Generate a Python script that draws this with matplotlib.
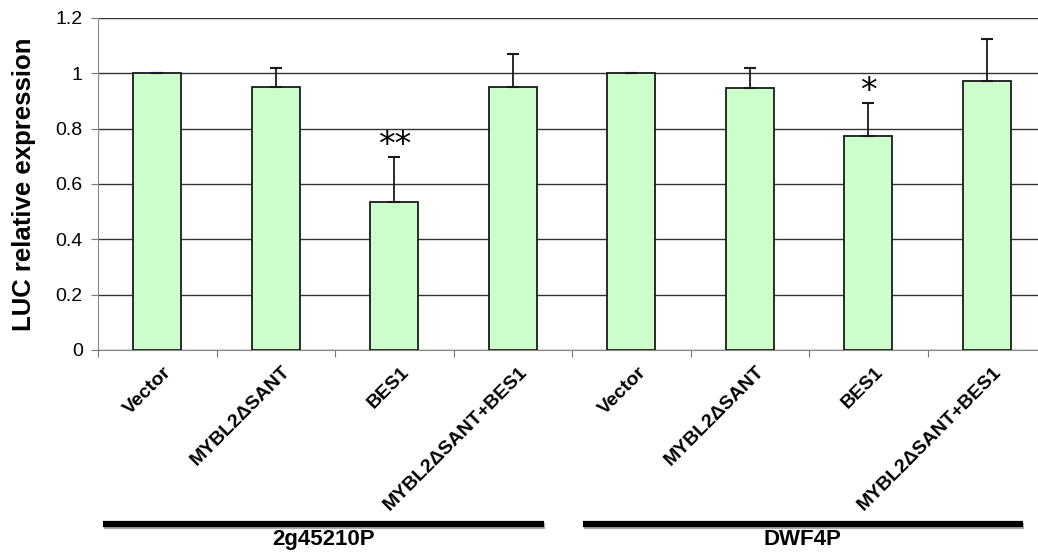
import numpy as np
import matplotlib
matplotlib.use("Agg")
import matplotlib.pyplot as plt
import matplotlib.transforms as mtransforms

plt.rcParams["font.family"] = ["Liberation Sans", "DejaVu Sans"]

# data
labels = ["Vector", "MYBL2\u0394SANT", "BES1", "MYBL2\u0394SANT+BES1",
          "Vector", "MYBL2\u0394SANT", "BES1", "MYBL2\u0394SANT+BES1"]
values = [1.0, 0.951, 0.535, 0.950, 1.0, 0.946, 0.773, 0.971]
errors = [0.0, 0.070, 0.161, 0.119, 0.0, 0.075, 0.118, 0.153]
stars = ["", "", "**", "", "", "", "*", ""]
groups = ["2g45210P", "DWF4P"]
group_span = [(-0.46, 3.26), (3.59, 7.30)]

fig = plt.figure(figsize=(10.38, 5.52), dpi=100)
ax = fig.add_axes([0.0944, 0.366, 0.9056, 0.6014])

x = np.arange(len(values))
ax.bar(x, values, width=0.405, color="#CCFFCC", edgecolor="#1a1a1a",
       linewidth=1.3, zorder=3)
ax.errorbar(x, values, yerr=[np.zeros(len(errors)), errors], fmt="none",
            ecolor="#1a1a1a", elinewidth=1.3, capsize=4, capthick=1.5, zorder=4)

for xi, v, e, s in zip(x, values, errors, stars):
    if s:
        ax.text(xi, v + e - 0.015, s, ha="center", va="bottom", fontsize=24,
                family="DejaVu Sans")

ax.set_xlim(-0.5, 7.43)
ax.set_ylim(0, 1.2)
ax.set_yticks(np.arange(0, 1.21, 0.2))
ax.set_yticklabels(["0", "0.2", "0.4", "0.6", "0.8", "1", "1.2"], fontsize=14)
ax.yaxis.grid(True, color="#333333", linewidth=1.0, zorder=0)
ax.set_axisbelow(True)

ax.set_xticks(np.arange(-0.5, 7.5, 1.0))
ax.set_xticklabels([])
ax.tick_params(axis="x", direction="out", length=5, color="#777777")
ax.tick_params(axis="y", direction="out", length=5, color="#777777", pad=6)
for side in ["top", "right"]:
    ax.spines[side].set_visible(False)
for side in ["left", "bottom"]:
    ax.spines[side].set_color("#888888")

ax.set_ylabel("LUC relative expression", fontsize=18.5, fontweight="bold", labelpad=14)

trans = mtransforms.blended_transform_factory(ax.transData, ax.transAxes)
for xi, lab in zip(x, labels):
    ax.text(xi + 0.05, -0.04, lab, rotation=45, ha="right", va="top",
            rotation_mode="anchor", transform=trans, fontsize=14,
            fontweight="bold")

for (x0, x1), g in zip(group_span, groups):
    # faint shadow under the group bar
    ax.plot([x0 + 0.01, x1 + 0.01], [-0.529, -0.529], transform=trans,
            color="#aaaaaa", linewidth=4.5, clip_on=False, solid_capstyle="butt")
    ax.plot([x0, x1], [-0.524, -0.524], transform=trans, color="black",
            linewidth=4.5, clip_on=False, solid_capstyle="butt")
    ax.text((x0 + x1) / 2, -0.587, g, transform=trans, ha="center",
            va="baseline", fontsize=16, fontweight="bold")

fig.savefig("out.png", dpi=100)
